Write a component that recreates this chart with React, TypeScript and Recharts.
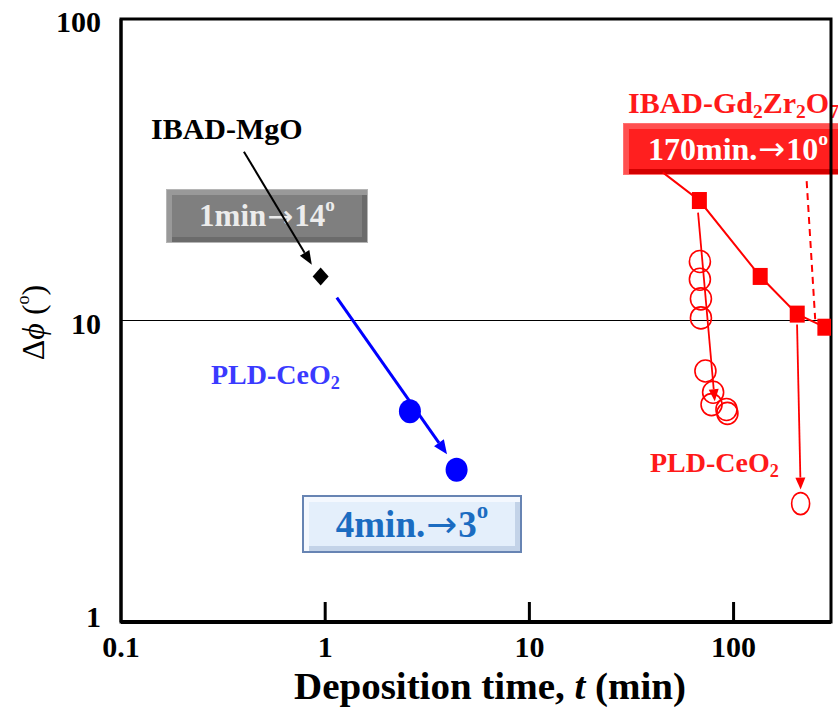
import React from 'react'
import {
  ScatterChart,
  Scatter,
  XAxis,
  YAxis,
  ReferenceLine,
  ReferenceArea,
} from 'recharts'

// deposition time t (min) vs in-plane texture Δφ (deg)
const ibadMgo = [{ t: 0.95, phi: 14 }]
const pldCeo2Blue = [
  { t: 2.6, phi: 5.0 },
  { t: 4.4, phi: 3.2 },
]
const ibadGzo = [
  { t: 68, phi: 25 },
  { t: 135, phi: 14 },
  { t: 205, phi: 10.5 },
  { t: 280, phi: 9.5 },
]
const gzoTrend = [
  { t: 45, phi: 31 },
  { t: 68, phi: 25 },
  { t: 135, phi: 14 },
  { t: 205, phi: 10.5 },
  { t: 280, phi: 9.5 },
]
const gzoDashed = [
  { t: 228, phi: 29 },
  { t: 251, phi: 10.1 },
]
const pldCeo2Red = [
  { t: 68.4, phi: 15.7 },
  { t: 68.4, phi: 13.7 },
  { t: 69.2, phi: 11.8 },
  { t: 69.2, phi: 10.2 },
  { t: 72.8, phi: 6.8 },
  { t: 79.4, phi: 5.78 },
  { t: 78, phi: 5.26 },
  { t: 92.3, phi: 5.07 },
  { t: 93.3, phi: 4.92 },
]
const pldCeo2RedEnd = [{ t: 213, phi: 2.47 }]

const arrowMgo = [{ t: 0.4, phi: 36.3 }, { t: 0.86, phi: 15.3 }]
const arrowBlue = [{ t: 1.14, phi: 11.9 }, { t: 3.95, phi: 3.6 }]
const arrowRedA = [{ t: 67, phi: 22.8 }, { t: 80.9, phi: 5.4 }]
const arrowRedB = [{ t: 204.6, phi: 9.7 }, { t: 213, phi: 2.75 }]

const X_TICKS = [0.1, 1, 10, 100]
const Y_TICKS = [1, 10, 100]

const SERIF = '"Liberation Serif", "Times New Roman", serif'

function ArrowShape(props: any) {
  const { x1, y1, x2, y2, color, w, head = 13, half = 5.5 } = props
  const dx = x2 - x1
  const dy = y2 - y1
  const len = Math.sqrt(dx * dx + dy * dy) || 1
  const ux = dx / len
  const uy = dy / len
  const bx = x2 - ux * head
  const by = y2 - uy * head
  const pts = `${x2},${y2} ${bx - uy * half},${by + ux * half} ${bx + uy * half},${by - ux * half}`
  return (
    <g>
      <line x1={x1} y1={y1} x2={bx} y2={by} stroke={color} strokeWidth={w} />
      <polygon points={pts} fill={color} />
    </g>
  )
}

function XTick(props: any) {
  const { x, y, payload } = props
  return (
    <g>
      {payload.value > 0.1 && (
        <line x1={x} x2={x} y1={y} y2={y - 20} stroke="#000" strokeWidth={3} />
      )}
      <text x={x} y={y + 35} textAnchor="middle" fontFamily={SERIF} fontWeight="bold" fontSize={30} fill="#000">
        {payload.value}
      </text>
    </g>
  )
}

function YTick(props: any) {
  const { x, y, payload } = props
  const dy = payload.value === 1 ? 5 : 13
  return (
    <text x={x - 20} y={y + dy} textAnchor="end" fontFamily={SERIF} fontWeight="bold" fontSize={30} fill="#000">
      {payload.value}
    </text>
  )
}

const box: React.CSSProperties = {
  position: 'absolute',
  boxSizing: 'border-box',
  display: 'flex',
  alignItems: 'center',
  justifyContent: 'center',
  fontFamily: SERIF,
  fontWeight: 'bold',
  whiteSpace: 'nowrap',
}

const label: React.CSSProperties = {
  position: 'absolute',
  fontFamily: SERIF,
  fontWeight: 'bold',
  whiteSpace: 'nowrap',
  lineHeight: 1,
}

const sup: React.CSSProperties = { fontSize: '0.62em', position: 'relative', top: '-0.55em' }
const sub: React.CSSProperties = { fontSize: '0.65em', position: 'relative', top: '0.25em' }
const arrowGlyph: React.CSSProperties = { fontFamily: '"DejaVu Sans"', fontWeight: 'normal', margin: '0 1px' }

function Arr() {
  return <span style={arrowGlyph}>→</span>
}

export default function App() {
  return (
    <div style={{ position: 'relative', width: 838, height: 708, background: '#fff', overflow: 'hidden' }}>
      <style>{'body{margin:0}'}</style>

      {/* annotations behind the plot */}
      <div style={{ ...label, left: 151, top: 114, fontSize: 30, color: '#000' }}>IBAD-MgO</div>
      <div
        style={{
          ...box,
          left: 166,
          top: 189,
          width: 202,
          height: 54,
          background: '#7f7f7f',
          border: '1px solid #b5b5b5',
          boxShadow: 'inset 5px 5px 0 #999, inset -5px -5px 0 #6b6b6b',
          color: '#ececec',
          fontSize: 31,
        }}
      >
        1min<Arr />14<span style={sup}>o</span>
      </div>
      <div style={{ ...label, left: 211, top: 361, fontSize: 28, color: '#3a3aff' }}>
        PLD-CeO<span style={sub}>2</span>
      </div>
      <div
        style={{
          ...box,
          left: 302,
          top: 495,
          width: 220,
          height: 58,
          background: '#e4effb',
          border: '2px solid #6784b3',
          boxShadow: 'inset 5px 5px 0 #f4f8fe, inset -5px -5px 0 #c3d3e8',
          color: '#1b6cc1',
          fontSize: 37,
        }}
      >
        4min.<Arr />3<span style={sup}>o</span>
      </div>
      <div style={{ ...label, left: 628, top: 88, fontSize: 30, color: '#ff1a1a' }}>
        IBAD-Gd<span style={sub}>2</span>Zr<span style={sub}>2</span>O<span style={sub}>7</span>
      </div>
      <div
        style={{
          ...box,
          left: 623,
          top: 123,
          width: 222,
          height: 52,
          justifyContent: 'flex-start',
          paddingLeft: 24,
          background: '#ff1f1f',
          border: '1px solid #ff7070',
          boxShadow: 'inset 5px 5px 0 #ff5050, inset -5px -5px 0 #d40000',
          color: '#fff',
          fontSize: 32,
        }}
      >
        170min.<Arr />10<span style={sup}>o</span>
      </div>
      <div style={{ ...label, left: 650, top: 449, fontSize: 28, color: '#ff1a1a' }}>
        PLD-CeO<span style={sub}>2</span>
      </div>

      <div style={{ position: 'absolute', left: 0, top: 0 }}>
        <ScatterChart width={838} height={708} margin={{ top: 19, right: 7, bottom: 0, left: 0 }}>
          <XAxis
            type="number"
            dataKey="t"
            scale="log"
            domain={[0.1, 300]}
            allowDataOverflow
            ticks={X_TICKS}
            tickLine={false}
            tickSize={0}
            tickMargin={0}
            tick={<XTick />}
            height={86}
            axisLine={{ stroke: '#000', strokeWidth: 4 }}
            label={{
              content: (p: any) => {
                const vb = p.viewBox
                return (
                  <text
                    x={vb.x + vb.width / 2 + 14}
                    y={vb.y + 77}
                    textAnchor="middle"
                    fontFamily={SERIF}
                    fontWeight="bold"
                    fontSize={38}
                    fill="#000"
                    textLength={392}
                    lengthAdjust="spacingAndGlyphs"
                  >
                    Deposition time, <tspan fontStyle="italic">t</tspan> (min)
                  </text>
                )
              },
            }}
          />
          <YAxis
            type="number"
            dataKey="phi"
            scale="log"
            domain={[1, 100]}
            allowDataOverflow
            ticks={Y_TICKS}
            tickLine={false}
            tickSize={0}
            tickMargin={0}
            tick={<YTick />}
            width={121}
            axisLine={{ stroke: '#000', strokeWidth: 3 }}
            label={{
              content: (p: any) => {
                const vb = p.viewBox
                const cx = 33
                const cy = vb.y + vb.height / 2 + 2
                return (
                  <text
                    x={cx}
                    y={cy}
                    transform={`rotate(-90 ${cx} ${cy})`}
                    textAnchor="middle"
                    dominantBaseline="central"
                    fontFamily={SERIF}
                    fontSize={32}
                    fill="#000"
                  >
                    Δ<tspan fontStyle="italic">ϕ</tspan> (<tspan fontSize={18} dy={-10}>o</tspan>
                    <tspan dy={10}>)</tspan>
                  </text>
                )
              },
            }}
          />

          <ReferenceArea x1={0.1} x2={300} y1={1} y2={100} fill="none" stroke="#000" strokeWidth={3} />
          <ReferenceLine y={10} stroke="#000" strokeWidth={1} />

          <ReferenceLine
            segment={[{ x: arrowMgo[0].t, y: arrowMgo[0].phi }, { x: arrowMgo[1].t, y: arrowMgo[1].phi }]}
            shape={(p: any) => <ArrowShape {...p} color="#000" w={2} head={14} half={5.5} />}
          />
          <ReferenceLine
            segment={[{ x: arrowBlue[0].t, y: arrowBlue[0].phi }, { x: arrowBlue[1].t, y: arrowBlue[1].phi }]}
            shape={(p: any) => <ArrowShape {...p} color="#0000ff" w={3} head={14} half={6} />}
          />
          <ReferenceLine
            segment={[{ x: arrowRedA[0].t, y: arrowRedA[0].phi }, { x: arrowRedA[1].t, y: arrowRedA[1].phi }]}
            shape={(p: any) => <ArrowShape {...p} color="#ff0000" w={1.8} head={12} half={5} />}
          />
          <ReferenceLine
            segment={[{ x: arrowRedB[0].t, y: arrowRedB[0].phi }, { x: arrowRedB[1].t, y: arrowRedB[1].phi }]}
            shape={(p: any) => <ArrowShape {...p} color="#ff0000" w={1.8} head={12} half={5} />}
          />

          <Scatter
            data={gzoTrend}
            line={{ stroke: '#ff0000', strokeWidth: 2 }}
            lineType="joint"
            shape={() => <g />}
            isAnimationActive={false}
          />
          <Scatter
            data={gzoDashed}
            line={{ stroke: '#ff0000', strokeWidth: 2, strokeDasharray: '7 5' }}
            lineType="joint"
            shape={() => <g />}
            isAnimationActive={false}
          />
          <Scatter
            data={ibadMgo}
            isAnimationActive={false}
            shape={(p: any) => (
              <polygon
                points={`${p.cx},${p.cy - 9} ${p.cx + 8},${p.cy} ${p.cx},${p.cy + 9} ${p.cx - 8},${p.cy}`}
                fill="#000"
              />
            )}
          />
          <Scatter
            data={pldCeo2Blue}
            isAnimationActive={false}
            shape={(p: any) => <ellipse cx={p.cx} cy={p.cy} rx={11} ry={12} fill="#0000ff" />}
          />
          <Scatter
            data={pldCeo2Red}
            isAnimationActive={false}
            shape={(p: any) => (
              <ellipse cx={p.cx} cy={p.cy} rx={10.5} ry={11} fill="none" stroke="#ff0000" strokeWidth={1.6} />
            )}
          />
          <Scatter
            data={pldCeo2RedEnd}
            isAnimationActive={false}
            shape={(p: any) => (
              <ellipse cx={p.cx} cy={p.cy} rx={9} ry={11} fill="none" stroke="#ff0000" strokeWidth={1.6} />
            )}
          />
          <Scatter
            data={ibadGzo}
            isAnimationActive={false}
            shape={(p: any) => <rect x={p.cx - 7.5} y={p.cy - 8.5} width={15} height={17} fill="#ff0000" />}
          />
        </ScatterChart>
      </div>
    </div>
  )
}
